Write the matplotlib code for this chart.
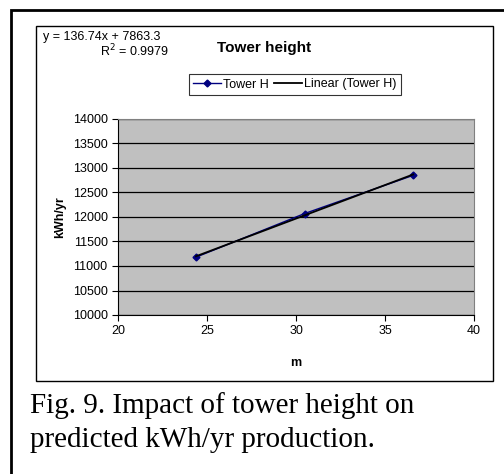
import numpy as np
import matplotlib.pyplot as plt
from matplotlib.patches import Rectangle

tower_h = [24.38, 30.48, 36.58]
kwh_yr = [11180, 12070, 12850]
x_ticks = [20, 25, 30, 35, 40]
y_ticks = [10000, 10500, 11000, 11500, 12000, 12500, 13000, 13500, 14000]

W, H = 504, 474
fig = plt.figure(figsize=(W / 100, H / 100), dpi=100)
plt.rcParams['font.family'] = 'Liberation Sans'


def fx(px):
    return px / W


def fy(py):
    return 1 - py / H


# outer frame (continues past the picture edges) and chart frame
fig.add_artist(Rectangle((fx(11), fy(520)), fx(600), fy(10) - fy(520),
                         transform=fig.transFigure, fill=False, lw=2, ec='black'))
fig.add_artist(Rectangle((fx(36), fy(381)), fx(493 - 36), fy(26) - fy(381),
                         transform=fig.transFigure, fill=False, lw=1, ec='black'))

ax = fig.add_axes([fx(118), fy(315), fx(474 - 118), fy(119) - fy(315)])
ax.set_facecolor('#c0c0c0')
ax.plot(tower_h, kwh_yr, color='#000080', marker='D', ms=3.5, lw=1, label='Tower H')

slope, icpt = np.polyfit(tower_h, kwh_yr, 1)
xs = np.array([tower_h[0], tower_h[-1]])
ax.plot(xs, slope * xs + icpt, color='black', lw=1.3, label='Linear (Tower H)')

ax.set_xlim(20, 40)
ax.set_ylim(10000, 14000)
ax.set_xticks(x_ticks)
ax.set_yticks(y_ticks)
ax.yaxis.grid(True, color='black', lw=0.9)
ax.set_axisbelow(True)
ax.tick_params(labelsize=9, length=4, width=0.8, color='black')
for s in ['top', 'right']:
    ax.spines[s].set_color('#808080')
ax.set_xlabel('m', fontsize=9, fontweight='bold', labelpad=14)
ax.set_ylabel('kWh/yr', fontsize=9, fontweight='bold', labelpad=5)

leg = ax.legend(loc='center', bbox_to_anchor=(fx(295), fy(84.5)),
                bbox_transform=fig.transFigure, ncol=2, fontsize=9,
                frameon=True, fancybox=False, edgecolor='black',
                handlelength=2.2, handletextpad=0.2, columnspacing=0.4,
                borderpad=0.35, borderaxespad=0)
leg.get_frame().set_linewidth(0.8)

fig.text(fx(264), fy(48), 'Tower height', fontsize=11, fontweight='bold',
         ha='center', va='center')
fig.text(fx(43), fy(37), 'y = 136.74x + 7863.3', fontsize=9, va='center')
fig.text(fx(100), fy(51), 'R$^2$ = 0.9979', fontsize=9, va='center')

fig.text(fx(30), fy(413), 'Fig. 9. Impact of tower height on',
         family='Liberation Serif', fontsize=21, va='baseline')
fig.text(fx(30), fy(447), 'predicted kWh/yr production.',
         family='Liberation Serif', fontsize=21, va='baseline')

fig.savefig('out.png', dpi=100)
